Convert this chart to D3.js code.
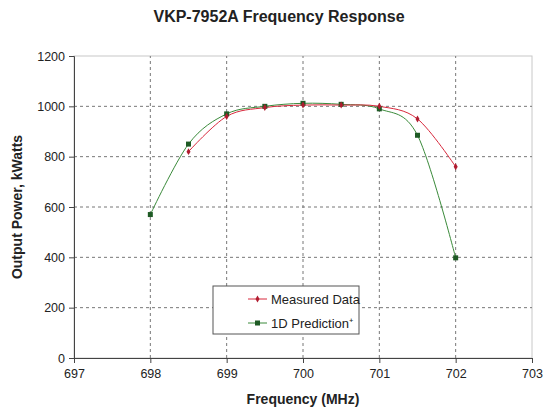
<!DOCTYPE html>
<html>
<head>
<meta charset="utf-8">
<script src="https://cdn.jsdelivr.net/npm/d3@7"></script>
<style>
  body { margin: 0; background: #fff; }
  text { font-family: "Liberation Sans", Arial, sans-serif; }
</style>
</head>
<body>
<div id="chart"></div>
<script>
const width = 553, height = 411;

// data
const measuredFreq = [698.5, 699, 699.5, 700, 700.5, 701, 701.5, 702];
const measuredPower = [820, 960, 995, 1005, 1005, 1000, 950, 760];
const predFreq = [698, 698.5, 699, 699.5, 700, 700.5, 701, 701.5, 702];
const predPower = [570, 850, 970, 1000, 1012, 1008, 990, 885, 398];
const xTicks = [697, 698, 699, 700, 701, 702, 703];
const yTicks = [0, 200, 400, 600, 800, 1000, 1200];

const margin = {top: 56, right: 21, bottom: 53, left: 74};

const svg = d3.select("#chart").append("svg")
    .attr("width", width)
    .attr("height", height);

const x = d3.scaleLinear().domain([697, 703]).range([margin.left, width - margin.right]);
const y = d3.scaleLinear().domain([0, 1200]).range([height - margin.bottom, margin.top]);

// plot frame (light)
svg.append("rect")
    .attr("x", x(697)).attr("y", y(1200))
    .attr("width", x(703) - x(697)).attr("height", y(0) - y(1200))
    .attr("fill", "none").attr("stroke", "#c8c8c8");

// grid
svg.append("g").selectAll("line")
    .data(yTicks.filter(d => d > 0 && d < 1200))
    .enter().append("line")
    .attr("x1", x(697)).attr("x2", x(703))
    .attr("y1", d => y(d)).attr("y2", d => y(d))
    .attr("stroke", "#777").attr("stroke-dasharray", "3,3");

svg.append("g").selectAll("line")
    .data(xTicks.filter(d => d > 697 && d < 703))
    .enter().append("line")
    .attr("x1", d => x(d)).attr("x2", d => x(d))
    .attr("y1", y(0)).attr("y2", y(1200))
    .attr("stroke", "#777").attr("stroke-dasharray", "3,3");

// axes
const xAxis = svg.append("g")
    .attr("transform", `translate(0,${y(0)})`)
    .call(d3.axisBottom(x).tickValues(xTicks).tickFormat(d3.format("d")).tickSize(5).tickPadding(6));
const yAxis = svg.append("g")
    .attr("transform", `translate(${x(697)},0)`)
    .call(d3.axisLeft(y).tickValues(yTicks).tickFormat(d3.format("d")).tickSize(5).tickPadding(4));

[xAxis, yAxis].forEach(a => {
    a.select(".domain").attr("stroke", "#444");
    a.selectAll(".tick line").attr("stroke", "#444");
    a.selectAll("text")
        .style("font-family", "'Liberation Sans', Arial, sans-serif")
        .style("font-size", "12.5px")
        .attr("fill", "#222");
});

// series
const line = d3.line().curve(d3.curveCatmullRom.alpha(0)).x(d => x(d[0])).y(d => y(d[1]));

const measured = measuredFreq.map((f, i) => [f, measuredPower[i]]);
const pred = predFreq.map((f, i) => [f, predPower[i]]);

svg.append("path").datum(pred)
    .attr("d", line).attr("fill", "none")
    .attr("stroke", "#3a8a3a").attr("stroke-width", 1);
svg.append("path").datum(measured)
    .attr("d", line).attr("fill", "none")
    .attr("stroke", "#d8283c").attr("stroke-width", 1);

svg.append("g").selectAll("rect")
    .data(pred).enter().append("rect")
    .attr("x", d => x(d[0]) - 2.5).attr("y", d => y(d[1]) - 2.5)
    .attr("width", 5).attr("height", 5)
    .attr("fill", "#1e5a24");

svg.append("g").selectAll("path")
    .data(measured).enter().append("path")
    .attr("d", d3.symbol().type(d3.symbolDiamond).size(14))
    .attr("transform", d => `translate(${x(d[0])},${y(d[1])})`)
    .attr("fill", "#b01c30");

// legend
const legend = svg.append("g");
legend.append("rect")
    .attr("x", 213).attr("y", 286).attr("width", 146).attr("height", 48)
    .attr("fill", "#fff").attr("stroke", "#555");

const legendItems = [
    {name: "Measured Data", color: "#d8283c", mark: "#b01c30", sq: false},
    {name: "1D Prediction\u207A", color: "#3a8a3a", mark: "#1e5a24", sq: true}
];
legendItems.forEach((it, i) => {
    const ly = 299 + i * 24;
    legend.append("line")
        .attr("x1", 248).attr("x2", 267).attr("y1", ly).attr("y2", ly)
        .attr("stroke", it.color);
    if (it.sq) {
        legend.append("rect").attr("x", 255).attr("y", ly - 2.5).attr("width", 5).attr("height", 5)
            .attr("fill", it.mark);
    } else {
        legend.append("path")
            .attr("d", d3.symbol().type(d3.symbolDiamond).size(14))
            .attr("transform", `translate(257.5,${ly})`)
            .attr("fill", it.mark);
    }
    legend.append("text")
        .attr("x", 271).attr("y", ly + 4.5)
        .style("font-size", "13px").attr("fill", "#222")
        .text(it.name);
});

// titles
svg.append("text")
    .attr("x", 279).attr("y", 22)
    .attr("text-anchor", "middle")
    .style("font-size", "16px").style("font-weight", "bold").attr("fill", "#222")
    .text("VKP-7952A Frequency Response");

svg.append("text")
    .attr("x", x(700)).attr("y", 404)
    .attr("text-anchor", "middle")
    .style("font-size", "14px").style("font-weight", "bold").attr("fill", "#222")
    .text("Frequency (MHz)");

svg.append("text")
    .attr("transform", `translate(22,${y(600)}) rotate(-90)`)
    .attr("text-anchor", "middle")
    .style("font-size", "14px").style("font-weight", "bold").attr("fill", "#222")
    .text("Output Power, kWatts");
</script>
</body>
</html>
